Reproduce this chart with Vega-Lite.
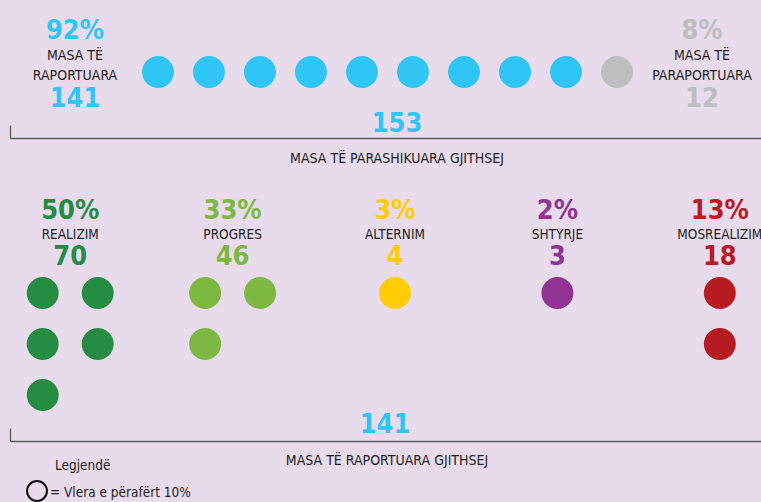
{
  "$schema": "https://vega.github.io/schema/vega-lite/v6.json",
  "width": 761,
  "height": 502,
  "autosize": {"type": "none"},
  "padding": 0,
  "background": "#E7DBEC",
  "config": {"view": {"stroke": null}, "text": {"font": "Liberation Sans Narrow, DejaVu Sans Condensed, sans-serif"}},
  "datasets": {
    "topDots": [
      {"dot": 1, "key": "Raportuara"}, {"dot": 2, "key": "Raportuara"}, {"dot": 3, "key": "Raportuara"},
      {"dot": 4, "key": "Raportuara"}, {"dot": 5, "key": "Raportuara"}, {"dot": 6, "key": "Raportuara"},
      {"dot": 7, "key": "Raportuara"}, {"dot": 8, "key": "Raportuara"}, {"dot": 9, "key": "Raportuara"},
      {"dot": 10, "key": "Paraportuara"}
    ],
    "topSummary": [
      {"key": "Raportuara", "share": 0.92, "label": "MASA TË\nRAPORTUARA", "count": 141},
      {"key": "Paraportuara", "share": 0.08, "label": "MASA TË\nPARAPORTUARA", "count": 12}
    ],
    "totals": [
      {"section": "planned", "total": 153, "caption": "MASA TË PARASHIKUARA GJITHSEJ"},
      {"section": "reported", "total": 141, "caption": "MASA TË RAPORTUARA GJITHSEJ"}
    ],
    "bottomDots": [
      {"key": "REALIZIM", "side": "left", "row": 1}, {"key": "REALIZIM", "side": "right", "row": 1},
      {"key": "REALIZIM", "side": "left", "row": 2}, {"key": "REALIZIM", "side": "right", "row": 2},
      {"key": "REALIZIM", "side": "left", "row": 3},
      {"key": "PROGRES", "side": "left", "row": 1}, {"key": "PROGRES", "side": "right", "row": 1},
      {"key": "PROGRES", "side": "left", "row": 2},
      {"key": "ALTERNIM", "side": "center", "row": 1},
      {"key": "SHTYRJE", "side": "center", "row": 1},
      {"key": "MOSREALIZIM", "side": "center", "row": 1}, {"key": "MOSREALIZIM", "side": "center", "row": 2}
    ],
    "bottomSummary": [
      {"key": "REALIZIM", "share": 0.50, "count": 70},
      {"key": "PROGRES", "share": 0.33, "count": 46},
      {"key": "ALTERNIM", "share": 0.03, "count": 4},
      {"key": "SHTYRJE", "share": 0.02, "count": 3},
      {"key": "MOSREALIZIM", "share": 0.13, "count": 18}
    ],
    "legendText": [
      {"part": "title", "text": "Legjendë"},
      {"part": "entry", "text": "= Vlera e përafërt 10%"}
    ],
    "legendSymbol": [
      {"part": "entry", "meaning": "10%"}
    ]
  },
  "layer": [
    {
      "data": {"name": "topDots"},
      "mark": {"type": "circle", "size": 1018, "opacity": 1},
      "encoding": {
        "x": {"field": "dot", "type": "ordinal", "scale": {"type": "point", "range": [158, 617], "padding": 0}, "axis": null},
        "y": {"datum": "dots", "type": "nominal", "scale": {"type": "point", "domain": ["dots"], "range": [72, 72]}, "axis": null},
        "color": {"field": "key", "type": "nominal", "legend": null,
          "scale": {"domain": ["Raportuara", "Paraportuara", "REALIZIM", "PROGRES", "ALTERNIM", "SHTYRJE", "MOSREALIZIM"],
                    "range": ["#2FC5F4", "#BDBEC0", "#268C43", "#7DB842", "#FFCC05", "#913493", "#B71C22"]}}
      }
    },
    {
      "data": {"name": "topSummary"},
      "encoding": {
        "x": {"field": "key", "type": "nominal", "scale": {"type": "point", "domain": ["Raportuara", "Paraportuara"], "range": [75, 702], "padding": 0}, "axis": null}
      },
      "layer": [
        {
          "mark": {"type": "text", "fontSize": 27, "fontWeight": "bold", "baseline": "middle"},
          "encoding": {
            "y": {"datum": "pct", "type": "nominal", "scale": {"type": "point", "domain": ["pct", "label", "count"], "range": [31, 99], "padding": 0}, "axis": null},
            "text": {"field": "share", "format": ".0%"},
            "color": {"field": "key", "type": "nominal", "legend": null}
          }
        },
        {
          "mark": {"type": "text", "fontSize": 14, "baseline": "middle", "lineBreak": "\n", "lineHeight": 20, "color": "#231F20", "dy": -9.5},
          "encoding": {
            "y": {"datum": "label", "type": "nominal", "axis": null},
            "text": {"field": "label"}
          }
        },
        {
          "mark": {"type": "text", "fontSize": 27, "fontWeight": "bold", "baseline": "middle"},
          "encoding": {
            "y": {"datum": "count", "type": "nominal", "axis": null},
            "text": {"field": "count"},
            "color": {"field": "key", "type": "nominal", "legend": null}
          }
        }
      ]
    },
    {
      "data": {"name": "totals"},
      "mark": {"type": "text", "fontSize": 27, "fontWeight": "bold", "baseline": "middle", "color": "#2FC5F4"},
      "encoding": {
        "x": {"field": "section", "type": "nominal", "scale": {"type": "point", "domain": ["planned", "reported"], "range": [397, 385], "padding": 0}, "axis": null},
        "y": {"field": "section", "type": "nominal", "scale": {"type": "point", "domain": ["planned", "reported"], "range": [124, 425], "padding": 0}, "axis": null},
        "text": {"field": "total"}
      }
    },
    {
      "data": {"name": "totals"},
      "mark": {"type": "text", "fontSize": 14, "baseline": "middle", "color": "#231F20"},
      "encoding": {
        "x": {"field": "section", "type": "nominal", "scale": {"type": "point", "domain": ["planned", "reported"], "range": [397, 387], "padding": 0}, "axis": null},
        "y": {"field": "section", "type": "nominal", "scale": {"type": "point", "domain": ["planned", "reported"], "range": [159, 461], "padding": 0}, "axis": null},
        "text": {"field": "caption"}
      }
    },
    {
      "data": {"name": "totals"},
      "mark": {"type": "rule", "strokeWidth": 1.3, "color": "#5A5A5C"},
      "encoding": {
        "x": {"datum": "start", "type": "nominal", "scale": {"type": "point", "domain": ["start", "end"], "range": [10.5, 761], "padding": 0}, "axis": null},
        "x2": {"datum": "end"},
        "y": {"field": "section", "type": "nominal", "scale": {"type": "point", "domain": ["planned", "reported"], "range": [138.5, 441.5], "padding": 0}, "axis": null}
      }
    },
    {
      "data": {"name": "totals"},
      "mark": {"type": "tick", "orient": "vertical", "size": 13, "thickness": 1.3, "color": "#5A5A5C", "opacity": 1},
      "encoding": {
        "x": {"datum": "start", "type": "nominal", "scale": {"type": "point", "domain": ["start", "end"], "range": [10.5, 761], "padding": 0}, "axis": null},
        "y": {"field": "section", "type": "nominal", "scale": {"type": "point", "domain": ["planned", "reported"], "range": [132, 435], "padding": 0}, "axis": null}
      }
    },
    {
      "data": {"name": "bottomDots"},
      "mark": {"type": "circle", "size": 1018, "opacity": 1},
      "encoding": {
        "x": {"field": "key", "type": "nominal", "scale": {"type": "band", "domain": ["REALIZIM", "PROGRES", "ALTERNIM", "SHTYRJE", "MOSREALIZIM"], "range": [-11, 801], "paddingInner": 0, "paddingOuter": 0}, "axis": null},
        "xOffset": {"field": "side", "type": "nominal", "scale": {"type": "band", "domain": ["left", "center", "right"], "range": [39.95, 122.45], "paddingInner": 0, "paddingOuter": 0}},
        "y": {"field": "row", "type": "ordinal", "scale": {"type": "point", "domain": [1, 2, 3], "range": [293, 395], "padding": 0}, "axis": null},
        "color": {"field": "key", "type": "nominal", "legend": null}
      }
    },
    {
      "data": {"name": "bottomSummary"},
      "encoding": {
        "x": {"field": "key", "type": "nominal", "scale": {"type": "band", "domain": ["REALIZIM", "PROGRES", "ALTERNIM", "SHTYRJE", "MOSREALIZIM"], "range": [-11, 801], "paddingInner": 0, "paddingOuter": 0}, "axis": null}
      },
      "layer": [
        {
          "mark": {"type": "text", "fontSize": 27, "fontWeight": "bold", "baseline": "middle"},
          "encoding": {
            "y": {"datum": "pct", "type": "nominal", "scale": {"type": "point", "domain": ["pct", "label", "count"], "range": [211, 257], "padding": 0}, "axis": null},
            "text": {"field": "share", "format": ".0%"},
            "color": {"field": "key", "type": "nominal", "legend": null}
          }
        },
        {
          "mark": {"type": "text", "fontSize": 13.5, "baseline": "middle", "color": "#231F20", "dy": 0.5},
          "encoding": {
            "y": {"datum": "label", "type": "nominal", "axis": null},
            "text": {"field": "key"}
          }
        },
        {
          "mark": {"type": "text", "fontSize": 27, "fontWeight": "bold", "baseline": "middle"},
          "encoding": {
            "y": {"datum": "count", "type": "nominal", "axis": null},
            "text": {"field": "count"},
            "color": {"field": "key", "type": "nominal", "legend": null}
          }
        }
      ]
    },
    {
      "data": {"name": "legendText"},
      "mark": {"type": "text", "fontSize": 13.5, "align": "left", "baseline": "middle", "color": "#231F20"},
      "encoding": {
        "x": {"field": "part", "type": "nominal", "scale": {"type": "point", "domain": ["title", "entry"], "range": [55, 50], "padding": 0}, "axis": null},
        "y": {"field": "part", "type": "nominal", "scale": {"type": "point", "domain": ["title", "entry"], "range": [466, 493], "padding": 0}, "axis": null},
        "text": {"field": "text"}
      }
    },
    {
      "data": {"name": "legendSymbol"},
      "mark": {"type": "point", "shape": "circle", "filled": false, "size": 400, "strokeWidth": 2, "color": "#111111", "opacity": 1},
      "encoding": {
        "x": {"field": "part", "type": "nominal", "scale": {"type": "point", "domain": ["entry"], "range": [37, 37]}, "axis": null},
        "y": {"field": "part", "type": "nominal", "scale": {"type": "point", "domain": ["entry"], "range": [491, 491]}, "axis": null}
      }
    }
  ],
  "resolve": {"scale": {"x": "independent", "y": "independent", "xOffset": "independent"}}
}
